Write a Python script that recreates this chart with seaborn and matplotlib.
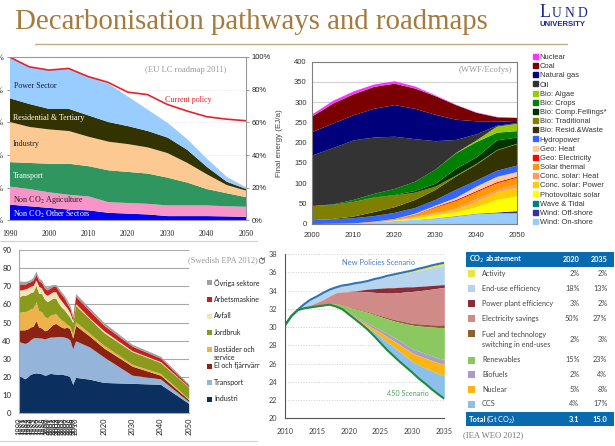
import numpy as np
import seaborn as sns
import matplotlib.pyplot as plt
from matplotlib.patches import Rectangle, Patch

W, H = 615, 446
SERIF = 'Liberation Serif'

# EU LC roadmap, top edge of each band in %
eu_years = [1990, 1995, 2000, 2005, 2010, 2015, 2020, 2025, 2030, 2035, 2040, 2045, 2050]
eu_current = [100, 94, 92, 93, 88, 84.5, 78.5, 77, 71, 67, 63.5, 62, 61]
eu_power = [100, 94, 92, 93, 88, 84, 76, 68, 60, 50, 38, 27, 20.5]
eu_resid = [75, 71.5, 68.5, 68.5, 64.5, 60.5, 58, 55, 51, 43.5, 33, 24, 19.5]
eu_industry = [60.5, 57.5, 56, 55, 51.5, 48.5, 47, 45, 41.5, 35.5, 28.5, 22, 18.5]
eu_transport = [36, 35.5, 35, 35, 33.5, 31, 30, 29, 26.5, 23.5, 19.5, 17, 14.5]
eu_agri = [21, 19.5, 17.5, 16, 15, 11.5, 11, 10.5, 9.5, 9.5, 9.5, 9, 8.7]
eu_other = [10, 9, 8, 7, 6.5, 5, 4.5, 4, 3, 3, 3, 2.8, 2.5]
eu_colors = ['#0000f0', '#f994c8', '#2f9660', '#fcc993', '#333300', '#99ccff']

# WWF/Ecofys, top edge of each band in EJ/a
wwf_years = [2000, 2005, 2010, 2015, 2020, 2025, 2030, 2035, 2040, 2045, 2050]
wwf_labels = ['Nuclear', 'Coal', 'Natural gas', 'Oil', 'Bio: Algae', 'Bio: Crops', 'Bio: Comp.Fellings*',
              'Bio: Traditional', 'Bio: Resid.&Waste', 'Hydropower', 'Geo: Heat', 'Geo: Electricity',
              'Solar thermal', 'Conc. solar: Heat', 'Conc. solar: Power', 'Photovoltaic solar',
              'Wave & Tidal', 'Wind: Off-shore', 'Wind: On-shore']
wwf_colors = ['#ff33ff', '#7a0000', '#00007a', '#333333', '#99cc00', '#008000', '#003300', '#808000', '#333300',
              '#3366ff', '#ffcc99', '#ff0000', '#ff9900', '#ff9966', '#ffcc00', '#ffff00', '#008080', '#333399',
              '#99ccff']
wwf_nuclear = [272, 305, 328, 345, 353, 340, 318, 295, 276, 265, 263]
wwf_coal = [267, 298, 321, 339, 347, 335, 316, 294, 275, 264, 262]
wwf_gas = [228, 249, 269, 285, 294, 285, 270, 258, 254, 254, 252]
wwf_oil = [170, 188, 207, 214, 216, 210, 205, 208, 222, 243, 250]
wwf_algae = [45, 49, 60, 75, 87, 105, 135, 176, 207, 241, 248]
wwf_crops = [45, 49, 60, 75, 87, 105, 135, 175, 203, 226, 230]
wwf_fell = [45, 48, 55, 66, 72, 82, 100, 137, 165, 207, 214]
wwf_trad = [45, 48, 55, 65, 71, 78, 93, 120, 149, 183, 199]
wwf_resid = [10, 13, 19, 30, 42, 60, 85, 118, 147, 182, 198]
wwf_hydro = [10, 12, 15, 20, 28, 40, 60, 85, 108, 132, 145]
wwf_heat = [0.5, 1, 2, 6.5, 13, 26, 46, 65, 93, 117, 129]
wwf_elec = [0, 0.5, 1.5, 6, 12.5, 24, 43, 60, 82, 104, 118]
wwf_thermal = [0, 0, 1.5, 5.5, 12, 23, 41, 57, 79, 101, 115]
wwf_csheat = [0, 0, 1, 5, 10.5, 18, 28, 39, 62, 84, 98]
wwf_cspower = [0, 0, 1, 4.5, 10, 17, 26, 36, 55, 79, 90]
wwf_pv = [0, 0, 1, 4, 9, 14, 22, 29, 42, 60, 69]
wwf_wave = [0, 0, 1, 4, 8, 11, 14.6, 20, 26, 29, 32.5]
wwf_off = [0, 0, 1, 4, 8, 11, 14.5, 20, 26, 29, 32]
wwf_on = [0, 0, 1, 4, 8, 11, 14, 19, 25, 27, 27]

# Swedish EPA, top edge of each band in Mt
se_years = list(range(1990, 2011)) + [2015, 2020, 2030, 2040, 2050]
se_ticks = list(range(1990, 2011)) + [2020, 2030, 2040, 2050]
se_industri = [20.5, 20, 19, 20, 21.5, 22, 22.3, 22, 21.8, 21, 21.3, 22, 21.8, 21.6, 21.5, 21.7, 21.2, 21, 20, 16, 19.8,
               18.8, 17, 16.5, 16, 5.5]
se_transport = [39.5, 39, 38.5, 39, 40.5, 41.5, 41.8, 41.5, 41.5, 41, 41.5, 42, 42, 42.2, 42.3, 42.3, 42, 41.5, 40.5, 35.5, 40,
                36.5, 31, 21, 19, 6.5]
se_el = [46, 46, 46, 46.5, 47.5, 48, 51, 47.5, 47, 45.5, 46, 47.5, 49, 49.5, 48.5, 47.5, 47, 47.5, 46.5, 41.5, 48.5,
         42.5, 36, 26, 21, 7.5]
se_bostader = [55.5, 56, 56, 56.5, 57.5, 58, 61.5, 56.5, 56, 53.5, 52.5, 54, 54.5, 55, 53, 51.5, 50.5, 49, 48, 43.5, 50.5,
               44, 37.5, 27, 22, 8]
se_jordbruk = [64, 65, 65, 65.5, 66.5, 67, 70.5, 66, 66, 63, 61.5, 62.5, 63.5, 63.5, 60.5, 58.5, 57, 55, 53, 50, 59.5,
               52, 44.5, 34, 28, 14.5]
se_avfall = [68, 68, 68.5, 69, 70, 70.5, 73.5, 70, 69, 66, 65, 66, 67, 67, 64, 62, 60, 58, 55.5, 51, 60.5,
             52.5, 45.5, 34.5, 28.5, 14.7]
se_arbets = [71.5, 71, 71, 72, 72.5, 73.5, 76.5, 73, 72, 69, 68, 69, 70, 70, 67.5, 65.5, 63.5, 60.5, 58, 52.5, 64.5,
             56.5, 48.5, 37, 30.5, 15.5]
se_ovriga = [73, 72.8, 72.7, 73, 73.7, 75, 78.5, 74.5, 73.5, 70.5, 69.5, 70.5, 71, 71, 69, 67, 65, 62.5, 59.5, 54, 66,
             58, 50, 38, 31.5, 16.2]
se_colors = ['#0b3060', '#95b4da', '#8b2214', '#efb24a', '#8a9a1c', '#efe6b5', '#c8201f', '#a0a0a0']
se_legend = ['Övriga sektore', 'Arbetsmaskine', 'Avfall', 'Jordbruk', 'Bostäder och\nservice', 'El och fjärrvärr',
             'Transport', 'Industri']

# IEA WEO, Gt
iea_years = list(range(2010, 2036))
iea_np = [30.2, 31.2, 31.9, 32.5, 33, 33.35, 33.75, 34.1, 34.35, 34.55, 34.65, 34.8, 34.9, 35.05, 35.25, 35.4, 35.6,
          35.75, 35.9, 36.05, 36.2, 36.4, 36.55, 36.75, 36.9, 37.05]
iea_activity = [30.2, 31.2, 31.9, 32.5, 33, 33.35, 33.75, 34.1, 34.35, 34.55, 34.65, 34.8, 34.9, 35.05, 35.22, 35.35,
                35.52, 35.65, 35.8, 35.93, 36.05, 36.2, 36.33, 36.5, 36.62, 36.75]
iea_enduse = [30.2, 31.2, 31.85, 32.2, 32.4, 32.7, 33, 33.4, 33.75, 33.85, 33.9, 33.95, 34.05, 34.15, 34.2, 34.25, 34.3,
              34.3, 34.35, 34.4, 34.4, 34.45, 34.5, 34.55, 34.6, 34.65]
iea_power = [30.2, 31.2, 31.85, 32.2, 32.4, 32.7, 33, 33.4, 33.75, 33.85, 33.88, 33.9, 33.9, 33.85, 33.8, 33.75, 33.72,
             33.72, 33.78, 33.85, 33.9, 33.98, 34.05, 34.15, 34.25, 34.35]
iea_elec = [30.2, 31.2, 31.85, 32.05, 32.15, 32.25, 32.35, 32.5, 32.6, 32.4, 32.2, 32.05, 31.85, 31.7, 31.45, 31.25,
            31.05, 30.85, 30.7, 30.55, 30.4, 30.35, 30.3, 30.25, 30.22, 30.25]
iea_fuel = [30.2, 31.2, 31.85, 32.05, 32.15, 32.25, 32.35, 32.5, 32.55, 32.35, 32.15, 31.98, 31.78, 31.6, 31.35, 31.12,
            30.9, 30.68, 30.5, 30.35, 30.2, 30.12, 30.05, 30, 29.95, 29.95]
iea_renew = [30.2, 31.2, 31.85, 32.05, 32.15, 32.25, 32.35, 32.45, 32.3, 32.05, 31.6, 31.2, 30.8, 30.4, 30.05, 29.7, 29.3,
             28.9, 28.5, 28.05, 27.6, 27.35, 27.1, 26.85, 26.6, 26.45]
iea_bio = [30.2, 31.2, 31.85, 32.05, 32.15, 32.25, 32.35, 32.45, 32.28, 32, 31.5, 31.05, 30.6, 30.2, 29.8, 29.4, 28.95,
           28.5, 28.05, 27.6, 27.15, 26.85, 26.6, 26.35, 26.1, 25.9]
iea_nuclear = [30.2, 31.2, 31.85, 32.05, 32.15, 32.25, 32.35, 32.45, 32.26, 31.97, 31.45, 30.95, 30.45, 29.95, 29.45, 28.95,
               28.4, 27.85, 27.3, 26.75, 26.2, 25.85, 25.5, 25.2, 24.9, 24.65]
iea_450 = [30.2, 31.2, 31.85, 32.05, 32.15, 32.25, 32.35, 32.45, 32.25, 31.95, 31.4, 30.85, 30.3, 29.7, 29, 28.25, 27.5,
           26.85, 26.2, 25.6, 25, 24.35, 23.8, 23.2, 22.65, 22.15]
iea_colors = ['#e5e64a', '#b7d3ee', '#8b2b35', '#d08a88', '#8e5f30', '#8cc860', '#a99cc8', '#fdb515', '#8ac0ea']

# abatement table
tab_labels = ['Activity', 'End-use efficiency', 'Power plant efficiency', 'Electricity savings',
              'Fuel and technology\nswitching in end-uses', 'Renewables', 'Biofuels', 'Nuclear', 'CCS']
tab_2020 = ['2%', '18%', '3%', '50%', '2%', '15%', '2%', '5%', '4%']
tab_2035 = ['2%', '13%', '2%', '27%', '3%', '23%', '4%', '8%', '17%']
tab_rows = [273.3, 288.3, 303.3, 318.3, 339, 360, 374.7, 389.3, 404]

sns.set_theme(style='white')
plt.rcParams['font.family'] = ['Liberation Sans', 'DejaVu Sans']


def panel(box):
    # box is left, top, right, bottom in pixels
    l, t, r, b = box
    return fig.add_axes([l / W, 1 - b / H, (r - l) / W, (b - t) / H])


def stack(ax, x, tops, colors):
    # tops goes from the lowest band up
    low = np.zeros(len(x))
    for top, c in zip(tops, colors):
        ax.fill_between(x, low, top, color=c, lw=0)
        low = np.array(top, dtype=float)


def style_axis(ax, color, size, family=None, text='#333333'):
    for s in ax.spines.values():
        s.set_color(color)
        s.set_linewidth(0.8)
    ax.tick_params(length=2.5, width=0.7, color=color, labelsize=size, labelcolor=text, pad=1.5)
    if family:
        for t in ax.get_xticklabels() + ax.get_yticklabels():
            t.set_family(family)


fig = plt.figure(figsize=(W / 100, H / 100), dpi=100)

# EU LC roadmap
ax1 = panel((9.5, 57, 246, 220.5))
stack(ax1, eu_years, [eu_other, eu_agri, eu_transport, eu_industry, eu_resid, eu_power], eu_colors)
sns.lineplot(x=eu_years, y=eu_current, color='#e8202a', lw=1.2, ax=ax1)
ax1.set_xlim(1990, 2050)
ax1.set_ylim(0, 100)
ax1.set_xticks(range(1990, 2051, 10))
ax1.set_yticks(range(0, 101, 20))
ax1.set_yticklabels([f'{v}%' for v in range(0, 101, 20)])
ax1.grid(axis='y', color='#dddddd', lw=0.5, ls=':')
ax1.set_axisbelow(True)
style_axis(ax1, '#999999', 5.5, SERIF, '#222222')
ax1.tick_params(axis='y', right=True, left=True, labelright=True, labelleft=True)
ax1.tick_params(axis='x', bottom=False, pad=4)
ax1.spines['left'].set_visible(False)

# WWF/Ecofys
ax2 = panel((312.3, 61.7, 517, 223.7))
wwf_tops = [wwf_on, wwf_off, wwf_wave, wwf_pv, wwf_cspower, wwf_csheat, wwf_thermal, wwf_elec, wwf_heat, wwf_hydro,
            wwf_resid, wwf_trad, wwf_fell, wwf_crops, wwf_algae, wwf_oil, wwf_gas, wwf_coal, wwf_nuclear]
ax2.grid(axis='y', color='#d0d0d0', lw=0.8)
ax2.set_axisbelow(True)
stack(ax2, wwf_years, wwf_tops, wwf_colors[::-1])
ax2.set_xlim(2000, 2050)
ax2.set_ylim(0, 400)
ax2.set_xticks(range(2000, 2051, 10))
ax2.set_yticks(range(0, 401, 50))
style_axis(ax2, '#808080', 5.5, None, '#333333')
ax2.tick_params(axis='x', pad=3.2)
ax2.set_ylabel('Final energy (EJ/a)', fontsize=5.8, color='#444444', labelpad=8)
handles2 = [Patch(color=c, label=n) for c, n in zip(wwf_colors, wwf_labels)]
fig.legend(handles=handles2, loc='upper left', bbox_to_anchor=(533 / W, 1 - 54 / H), frameon=False, fontsize=5.4,
           labelcolor='#333333', handlelength=0.65, handleheight=0.65, handletextpad=0.25, labelspacing=0.27,
           borderpad=0, borderaxespad=0)

# Swedish EPA
ax3 = panel((19, 250, 188.7, 413.3))
ax3.grid(axis='y', color='#a8a8a8', lw=0.8)
ax3.set_axisbelow(True)
stack(ax3, se_years, [se_industri, se_transport, se_el, se_bostader, se_jordbruk, se_avfall, se_arbets, se_ovriga], se_colors)
ax3.set_xlim(1990, 2050)
ax3.set_ylim(0, 90)
ax3.set_xticks(se_ticks)
ax3.set_xticklabels(se_ticks, rotation=90, family='Lato')
ax3.set_yticks(range(0, 91, 10))
style_axis(ax3, '#aaaaaa', 5.6, 'Lato', '#222222')
ax3.tick_params(axis='x', length=1.5, labelsize=5.4)
ax3.tick_params(axis='y', length=0, pad=5.5)
ax3.spines['top'].set_visible(False)
ax3.spines['right'].set_visible(False)

# IEA WEO
ax4 = panel((285, 254, 444.3, 418.3))
ax4.grid(axis='y', color='#cfcfcf', lw=0.7, ls=':')
ax4.set_axisbelow(True)
iea_edges = [iea_np, iea_activity, iea_enduse, iea_power, iea_elec, iea_fuel, iea_renew, iea_bio, iea_nuclear, iea_450]
for upper, lower, c in zip(iea_edges[:-1], iea_edges[1:], iea_colors):
    ax4.fill_between(iea_years, lower, upper, color=c, lw=0)
sns.lineplot(x=iea_years, y=iea_np, color='#2e75b6', lw=1.5, ax=ax4)
sns.lineplot(x=iea_years, y=iea_450, color='#1e8a3c', lw=1.5, ax=ax4)
ax4.set_xlim(2010, 2035)
ax4.set_ylim(20, 38)
ax4.set_xticks(range(2010, 2036, 5))
ax4.set_yticks(range(20, 39, 2))
style_axis(ax4, '#555555', 5.3, 'Lato', '#444444')
ax4.tick_params(pad=3)
ax4.tick_params(axis='x', pad=4.2)
ax4.spines['top'].set_visible(False)
ax4.spines['right'].set_visible(False)

# everything else is placed in pixels on a transparent sheet
top = fig.add_axes([0, 0, 1, 1], zorder=10)
top.set_xlim(0, W)
top.set_ylim(H, 0)
top.axis('off')
top.patch.set_alpha(0)

top.text(15, 29, 'Decarbonisation pathways and roadmaps', family=SERIF, fontsize=20.8, color='#a57a3c', va='baseline')
top.plot([35, 567], [44, 44], color='#c9a97f', lw=1)
for x, s, size in [(540, 'L', 13), (552, 'U', 9.8), (565, 'N', 9.8), (578, 'D', 9.8)]:
    top.text(x, 16.7, s, family=SERIF, fontsize=size, color='#1c2a8c', va='baseline')
top.text(540, 26, 'UNIVERSITY', family='Liberation Sans', fontsize=5.6, weight='bold', color='#1c2a8c', va='baseline')
top.plot([0, 257], [241, 241], color='#d0d0d0', lw=0.8)
top.plot([0, 257], [441, 441], color='#d0d0d0', lw=0.8)

eu_text = [(14, 86, 'Power Sector', '#1a1a40'), (13, 118, 'Residential & Tertiary', 'white'), (13, 143.5, 'Industry', '#222222'),
           (13, 175.5, 'Transport', 'white'), (13, 200, 'Non CO$_2$ Agriculture', '#222222'),
           (13, 214.5, 'Non CO$_2$ Other Sectors', 'white')]
for x, y, s, c in eu_text:
    top.text(x, y, s, family=SERIF, fontsize=5.8, color=c, va='center', math_fontfamily='stix')
top.text(186, 70, '(EU LC roadmap 2011)', family=SERIF, fontsize=6.2, color='#999999', ha='center', va='center')
top.text(188, 100, 'Current policy', family=SERIF, fontsize=5.8, color='#e8202a', ha='center', va='center')
top.text(512, 70, '(WWF/Ecofys)', family=SERIF, fontsize=6.2, color='#999999', ha='right', va='center')
top.text(222.5, 260, '(Swedish EPA 2012)', family=SERIF, fontsize=6, color='#999999', ha='center', va='center')
top.text(263, 259, 'Gt', family='Lato', fontsize=5.4, color='#444444', rotation=90, ha='center', va='center')
top.text(379, 262.7, 'New Policies Scenario', family='Lato', fontsize=5.4, color='#4a7fc0', ha='center', va='center')
top.text(408, 394, '450 Scenario', family='Lato', fontsize=5.2, color='#4fa060', ha='center', va='center')
top.text(463, 435, '(IEA WEO 2012)', family=SERIF, fontsize=6.2, color='#777777', va='center')

# Swedish legend, rows are not evenly set because of the wrapped label
se_rows = [282.7, 299.3, 316, 332.7, 349.5, 366, 382.7, 399]
for y, s, c in zip(se_rows, se_legend, se_colors[::-1]):
    top.add_patch(Rectangle((207, y - 2.5), 5, 5, color=c, lw=0))
    top.text(214, y - 3.7, s, family='Lato', fontsize=5, color='#222222', va='top', linespacing=1.2)

# abatement table
for y0, y1 in [(251.7, 266.7), (411.7, 426)]:
    top.add_patch(Rectangle((466, y0), 148, y1 - y0, color='#0a6ab0', lw=0))
top.text(469, 259.2, 'CO$_2$ abatement', family='Lato', fontsize=5.3, weight='bold', color='white', va='center',
         math_fontfamily='dejavusans')
top.text(579.3, 259.2, '2020', family='Lato', fontsize=5.2, weight='bold', color='white', ha='right', va='center')
top.text(607.3, 259.2, '2035', family='Lato', fontsize=5.2, weight='bold', color='white', ha='right', va='center')
for i, y in enumerate(tab_rows):
    sy = 333.3 if i == 4 else y
    top.add_patch(Rectangle((468.3, sy - 3.5), 7, 7, color=iea_colors[i], lw=0))
    top.text(482, y, tab_labels[i], family='Lato', fontsize=5.2, color='#444444', va='center', linespacing=1.5)
    top.text(579.3, y, tab_2020[i], family='Lato', fontsize=5.2, color='#444444', ha='right', va='center')
    top.text(607.3, y, tab_2035[i], family='Lato', fontsize=5.2, color='#444444', ha='right', va='center')
top.text(469, 419, 'Total', family='Lato', fontsize=5.4, weight='bold', color='white', va='center')
top.text(486, 419, '(Gt CO$_2$)', family='Lato', fontsize=5.2, color='white', va='center', math_fontfamily='dejavusans')
top.text(579.3, 419, '3.1', family='Lato', fontsize=5.4, weight='bold', color='white', ha='right', va='center')
top.text(607.3, 419, '15.0', family='Lato', fontsize=5.4, weight='bold', color='white', ha='right', va='center')

fig.savefig('out.png', dpi=100)
